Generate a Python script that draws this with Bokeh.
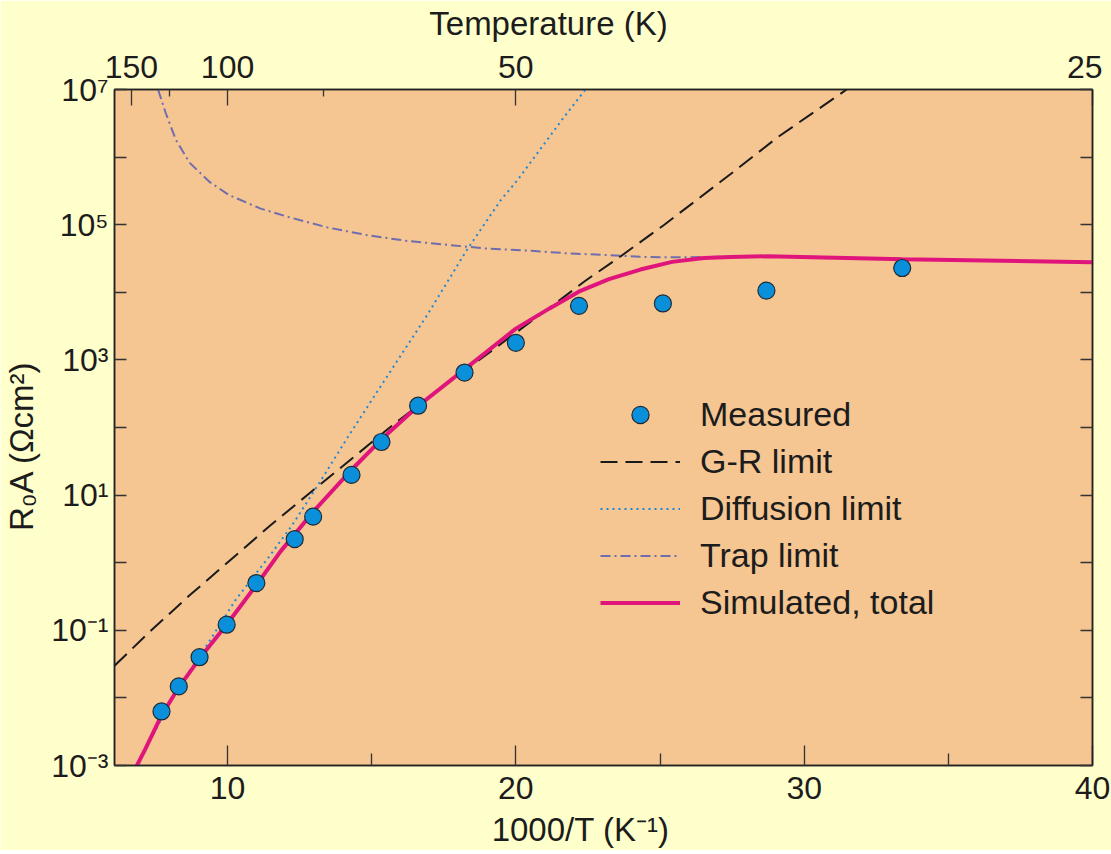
from bokeh.plotting import figure
from bokeh.models import (FixedTicker, LinearAxis, LogAxis, CustomJSTickFormatter,
                          Legend, LegendItem, Range1d)
from bokeh.embed import file_html
from bokeh.resources import INLINE

# ---------------- data ----------------
measured_x = [7.71, 8.31, 9.03, 9.97, 11.0, 12.33, 12.97, 14.30, 15.34, 16.61,
              18.22, 20.0, 22.19, 25.10, 28.69, 33.40]
measured_y = [6.3e-3, 1.48e-2, 4.0e-2, 0.121, 0.50, 2.23, 4.8, 19.9, 61, 210,
              650, 1790, 6300, 6840, 10600, 22900]

sim_x = [6.84, 7.156, 7.711, 8.30, 9.06, 9.96, 11.02, 11.84, 12.98, 14.31,
         15.35, 16.61, 18.22, 20.0, 21.17, 22.18, 23.23, 24.32, 25.42, 26.52,
         27.45, 28.73, 33.41, 40.0]
sim_y = [9.66e-4, 1.78e-3, 5.50e-3, 1.41e-2, 3.98e-2, 0.120, 0.480, 1.47, 5.73,
         23.9, 67.5, 208, 724, 2900, 5780, 1.02e4, 1.57e4, 2.17e4, 2.82e4,
         3.21e4, 3.33e4, 3.41e4, 3.08e4, 2.79e4]

gr_x = [6.08, 7.31, 8.685, 10.06, 11.43, 12.80, 14.17, 15.54, 16.64, 21.44,
        22.40, 23.64, 25.15, 27.45, 29.07, 31.5]
gr_y = [0.0299, 0.0959, 0.329, 1.06, 3.40, 10.3, 30.9, 93.3, 217, 7210,
        1.47e4, 3.42e4, 1.0e5, 5.62e5, 1.95e6, 1.02e7]

diff_x = [6.84, 8.30, 9.06, 10.28, 11.43, 12.25, 13.35, 14.17, 15.54, 16.92,
          18.29, 19.47, 20.05, 21.61, 22.36, 22.45]
diff_y = [1.0e-3, 0.0145, 0.0427, 0.282, 1.21, 3.63, 19.6, 71.9, 574, 4580,
          4.16e4, 2.29e5, 4.53e5, 3.61e6, 9.33e6, 1.07e7]

trap_x = [7.59, 7.86, 8.21, 8.69, 9.37, 10.06, 11.15, 12.11, 13.49, 14.86,
          16.23, 17.6, 18.97, 20.34, 21.72, 23.09, 24.46, 25.83, 28.73, 33.41, 40.0]
trap_y = [1.0e7, 4.45e6, 1.79e6, 8.22e5, 4.31e5, 2.73e5, 1.73e5, 1.30e5,
          9.06e4, 6.98e4, 5.75e4, 5.05e4, 4.44e4, 4.16e4, 3.79e4, 3.56e4,
          3.33e4, 3.29e4, 3.45e4, 3.13e4, 2.82e4]

x_ticks = [10, 20, 30, 40]
x_tick_labels = ["10", "20", "30", "40"]
x_minor_ticks = [15, 25, 35]

temp_ticks_K = [150, 100, 50, 25]
temp_tick_labels = ["150", "100", "50", "25\u00a0"]
temp_minor_K = [125, 75]

y_ticks = [1e-3, 1e-2, 1e-1, 1e0, 1e1, 1e2, 1e3, 1e4, 1e5, 1e6, 1e7]
y_tick_labels = ["10\u207b\u00b3", "", "10\u207b\u00b9", "", "10\u00b9", "",
                 "10\u00b3", "", "10\u2075", "", "10\u2077"]

# ---------------- styling ----------------
FONT = "Liberation Sans"
TXT = "#1c1c1c"
OUTER = "#FFFFCC"
INNER = "#F5C592"

p = figure(width=1111, height=850, x_range=Range1d(6.08, 40.0),
           y_range=Range1d(1e-3, 1e7), y_axis_type="log",
           output_backend="svg", toolbar_location=None,
           min_border_left=114, min_border_right=19,
           min_border_top=89, min_border_bottom=83)
p.background_fill_color = INNER
p.border_fill_color = OUTER
p.outline_line_color = "#222222"
p.outline_line_width = 1.5
p.grid.visible = False

FMT_CODE = """
let best = -1, bd = Infinity;
for (let i = 0; i < vals.length; i++) {
  const d = Math.abs(vals[i] - tick) / Math.max(Math.abs(vals[i]), 1e-300);
  if (d < bd) { bd = d; best = i; }
}
return (best >= 0 && bd < 1e-6) ? labs[best] : "";
"""

def fmt(vals, labs):
    return CustomJSTickFormatter(args=dict(vals=list(vals), labs=list(labs)), code=FMT_CODE)

def style(ax, tin, minin, standoff):
    ax.major_tick_in = tin
    ax.major_tick_out = 0
    ax.minor_tick_in = minin
    ax.minor_tick_out = 0
    ax.axis_line_color = "#222222"
    ax.axis_line_width = 1.5
    ax.major_tick_line_color = "#333333"
    ax.major_tick_line_width = 1.3
    ax.minor_tick_line_color = "#333333"
    ax.minor_tick_line_width = 1.3
    ax.major_label_text_font = FONT
    ax.major_label_text_font_size = "32px"
    ax.major_label_text_color = TXT
    ax.major_label_text_line_height = 1.0
    ax.major_label_standoff = standoff
    ax.axis_label_text_font = FONT
    ax.axis_label_text_font_size = "33px"
    ax.axis_label_text_font_style = "normal"
    ax.axis_label_text_color = TXT
    ax.axis_label_text_line_height = 1.0

# bottom axis
xb = p.xaxis[0]
xb.ticker = FixedTicker(ticks=x_ticks, minor_ticks=x_minor_ticks)
xb.formatter = fmt(x_ticks, x_tick_labels)
xb.axis_label = "1000/T (K\u207b\u00b9)" + "\u00a0" * 5
style(xb, 20, 12, 11)
xb.axis_label_standoff = 9

# left axis
yl = p.yaxis[0]
yl.ticker = FixedTicker(ticks=y_ticks, minor_ticks=[])
yl.formatter = fmt(y_ticks, y_tick_labels)
yl.axis_label = "R\u2080A (\u03a9cm\u00b2)" + "\u00a0" * 4
style(yl, 12, 0, 6)
yl.axis_label_standoff = 8

# top axis
top_vals = [1000.0 / t for t in temp_ticks_K]
top_minor = [1000.0 / t for t in temp_minor_K]
xt = LinearAxis(ticker=FixedTicker(ticks=top_vals, minor_ticks=top_minor),
                formatter=fmt(top_vals, temp_tick_labels),
                axis_label="Temperature (K)" + "\u00a0" * 12)
style(xt, 16, 7, 5)
xt.axis_label_standoff = 4
p.add_layout(xt, "above")

# right axis (ticks only)
yr = LogAxis(ticker=FixedTicker(ticks=y_ticks, minor_ticks=[]),
             formatter=fmt(y_ticks, [""] * len(y_ticks)))
style(yr, 12, 0, 0)
yr.major_label_text_font_size = "1px"
p.add_layout(yr, "right")

# ---------------- glyphs ----------------
r_trap = p.line(trap_x, trap_y, line_color="#6E6EAE", line_width=2,
                line_dash="10 4 2 4")
r_diff = p.line(diff_x, diff_y, line_color="#1E88D8", line_width=2,
                line_dash="2 4")
r_gr = p.line(gr_x, gr_y, line_color="#1a1a1a", line_width=2, line_dash="17 8")
r_sim = p.line(sim_x, sim_y, line_color="#E0157C", line_width=4)
r_pts = p.scatter(measured_x, measured_y, size=17, fill_color="#0A8FDB",
                  line_color="#1f2a33", line_width=1.2)

legend = Legend(items=[
    LegendItem(label="Measured", renderers=[r_pts]),
    LegendItem(label="G-R limit", renderers=[r_gr]),
    LegendItem(label="Diffusion limit", renderers=[r_diff]),
    LegendItem(label="Trap limit", renderers=[r_trap]),
    LegendItem(label="Simulated, total", renderers=[r_sim]),
], location=(486, 141), orientation="vertical", padding=0, margin=0,
    spacing=4, glyph_width=80, glyph_height=43, label_height=43,
    label_standoff=20, label_text_font=FONT, label_text_font_size="34px",
    label_text_color=TXT, border_line_alpha=0, background_fill_alpha=0)
p.add_layout(legend)

open("out.html", "w").write(file_html(p, INLINE))
